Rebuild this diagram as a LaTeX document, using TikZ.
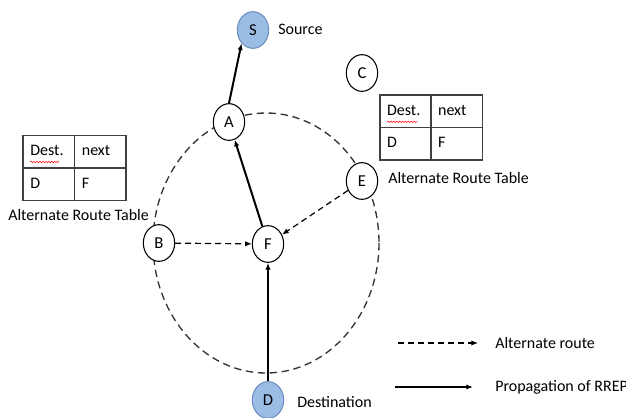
\documentclass[tikz,border=0pt]{standalone}
\usepackage{fontspec}
\setmainfont{Carlito}
\usetikzlibrary{calc, shapes, arrows.meta, decorations.pathmorphing}
\definecolor{srcblue}{RGB}{155,189,228}
\definecolor{srcedge}{RGB}{108,142,191}
\definecolor{gridgray}{RGB}{64,64,64}

\begin{document}
\begin{tikzpicture}[x=.75pt, y=-.75pt, font=\fontsize{12}{14}\selectfont]
    \tikzstyle{router} = [ellipse, draw, fill=white, line width=.8pt, minimum width=23.5pt, minimum height=27.5pt, inner sep=0pt, font=\fontsize{12.5}{14}\selectfont]
    \tikzstyle{endpoint} = [router, draw=srcedge, fill=srcblue]
    \tikzstyle{cell} = [rectangle, draw=gridgray, line width=1.1pt, minimum width=38.6pt, minimum height=24.4pt, text width=27.6pt, inner xsep=5.5pt, text height=8.5pt, text depth=2.5pt, align=left]
    \tikzstyle{caption} = [anchor=west, inner sep=0pt]
    \tikzstyle{rrep} = [line width=1.5pt, -{Latex[length=5pt, width=4pt]}]
    \tikzstyle{altroute} = [line width=.9pt, dash pattern=on 4.5pt off 3pt, -{Latex[length=5pt, width=4pt]}]
    \tikzstyle{spellmark} = [red, line width=.4pt, decorate, decoration={snake, amplitude=.5pt, segment length=2.2pt}]

    \useasboundingbox (0, 0) rectangle (626, 418);

    % Coverage area ------------------------------------
    \draw[line width=1pt, black!80, dash pattern=on 5.5pt off 3.5pt] (266, 243) ellipse [x radius=113, y radius=130];

    % Nodes --------------------------------------------
    \node (S) at (253, 30) [endpoint] {S};
    \node (A) at (229, 122) [router] {A};
    \node (C) at (362, 73) [router] {C};
    \node (E) at (362, 181) [router] {E};
    \node (B) at (159, 243) [router] {B};
    \node (F) at (268, 244) [router] {F};
    \node (D) at (268, 400) [endpoint] {D};

    \node (src_label) at ($(S) + (25, -1)$) [caption] {Source};
    \node (dst_label) at ($(D) + (29, 2)$) [caption] {Destination};
    % ---------------------------------------------------

    % Route tables
    \node (LT1) at (48.75, 151.5) [cell] {Dest.};
    \node (LT2) at ($(LT1) + (51.5, 0)$) [cell] {next};
    \node (LT3) at ($(LT1) + (0, 32.5)$) [cell] {D};
    \node (LT4) at ($(LT3) + (51.5, 0)$) [cell] {F};
    \node (left_table) at (8, 215) [caption] {Alternate Route Table};

    \node (RT1) at (405.5, 111.3) [cell] {Dest.};
    \node (RT2) at ($(RT1) + (51, 0)$) [cell] {next};
    \node (RT3) at ($(RT1) + (0, 32.5)$) [cell] {D};
    \node (RT4) at ($(RT3) + (51, 0)$) [cell] {F};
    \node (right_table) at ($(E) + (26, -3)$) [caption] {Alternate Route Table};

    \draw[spellmark] ($(LT1.west) + (8, 10.5)$) -- ++(29, 0);
    \draw[spellmark] ($(RT1.west) + (8, 10.5)$) -- ++(31, 0);

    % Routes
    \draw[rrep] (A.north) -- (S.south west);
    \draw[rrep] (F) -- (A);
    \draw[rrep] (D) -- (F);
    \draw[altroute] (B) -- (F);
    \draw[altroute] (E) -- (F);

    % Legend
    \coordinate (alt_start) at (398, 343);
    \node (alt_label) at (495, 343) [caption] {Alternate route};
    \draw[altroute] (alt_start) -- ($(alt_label.west) + (-17, 0)$);

    \coordinate (rrep_start) at (395, 387);
    \node (rrep_label) at (495, 387) [caption] {Propagation of RREP};
    \draw[rrep] (rrep_start) -- ($(rrep_label.west) + (-22, 0)$);
\end{tikzpicture}
\end{document}
